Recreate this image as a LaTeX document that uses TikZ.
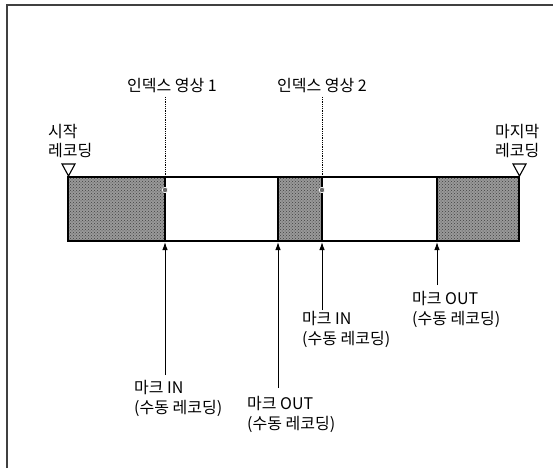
\documentclass[tikz,border=0pt]{standalone}
\usepackage{fontspec}
\newfontfamily\kr{Noto Sans CJK KR}
\usetikzlibrary{arrows.meta,patterns}
\begin{document}
\begin{tikzpicture}[x=1pt,y=-1pt,
  lbl/.style={font=\kr\fontsize{16}{19.5}\selectfont, inner sep=0pt, align=left, anchor=base west},
  shadeseg/.style={fill=black!40, postaction={pattern=crosshatch dots, pattern color=black!75}},
  barline/.style={line width=2pt},
  segline/.style={line width=1.4pt},
  arr/.style={-{Latex[length=8pt,width=5.5pt]}, line width=1pt},
  idx/.style={dash pattern=on 0.9pt off 0.9pt, line width=0.9pt},
  tri/.style={draw, line width=1.1pt, fill=white},
  idxdot/.style={circle, fill=black!60, draw=white, line width=0.6pt, minimum size=5.5pt, inner sep=0pt}]
\useasboundingbox (0,0) rectangle (553,468);
% frame
\draw[line width=2pt, black!75] (7,468) -- (7,5) -- (553,5);
% shaded parts
\fill[shadeseg] (68,177) rectangle (165,241);
\fill[shadeseg] (278,177) rectangle (322,241);
\fill[shadeseg] (437,177) rectangle (519,241);
\draw[barline] (68,177) rectangle (519,241);
\foreach \xx in {165,278,322,437}{\draw[segline] (\xx,177) -- (\xx,241);}
% bottom points of boundaries
\coordinate (m1) at (165,242);
\coordinate (m2) at (278,242);
\coordinate (m3) at (322,242);
\coordinate (m4) at (437,242);
% start / end markers
\draw[tri] (62,164) -- (75,164) -- (68.5,176) -- cycle;
\draw[tri] (513,164) -- (526,164) -- (519.5,176) -- cycle;
% (base anchor of a two-line node = baseline of its last line)
\node[lbl] (start) at (48,156.5) {시작\\레코딩};
\node[lbl] (end) at (495,156.5) {마지막\\레코딩};
% index images
\node[lbl] (idx1) at (127,92) {인덱스 영상 1};
\node[lbl] (idx2) at (277,92) {인덱스 영상 2};
\node[idxdot] (d1) at (165,190) {};
\node[idxdot] (d2) at (322,190) {};
\draw[idx] (165,97) -- (d1);
\draw[idx] (322,97) -- (d2);
% mark labels
\node[lbl] (in1) at (134,413) {마크 IN\\(수동 레코딩)};
\node[lbl] (out1) at (247,429) {마크 OUT\\(수동 레코딩)};
\node[lbl] (in2) at (302,344) {마크 IN\\(수동 레코딩)};
\node[lbl] (out2) at (412,324) {마크 OUT\\(수동 레코딩)};
\coordinate (t1) at (165,375);
\coordinate (t2) at (278,388);
\coordinate (t3) at (322,310);
\coordinate (t4) at (437,285);
\draw[arr] (t1) -- (m1);
\draw[arr] (t2) -- (m2);
\draw[arr] (t3) -- (m3);
\draw[arr] (t4) -- (m4);
\end{tikzpicture}
\end{document}
